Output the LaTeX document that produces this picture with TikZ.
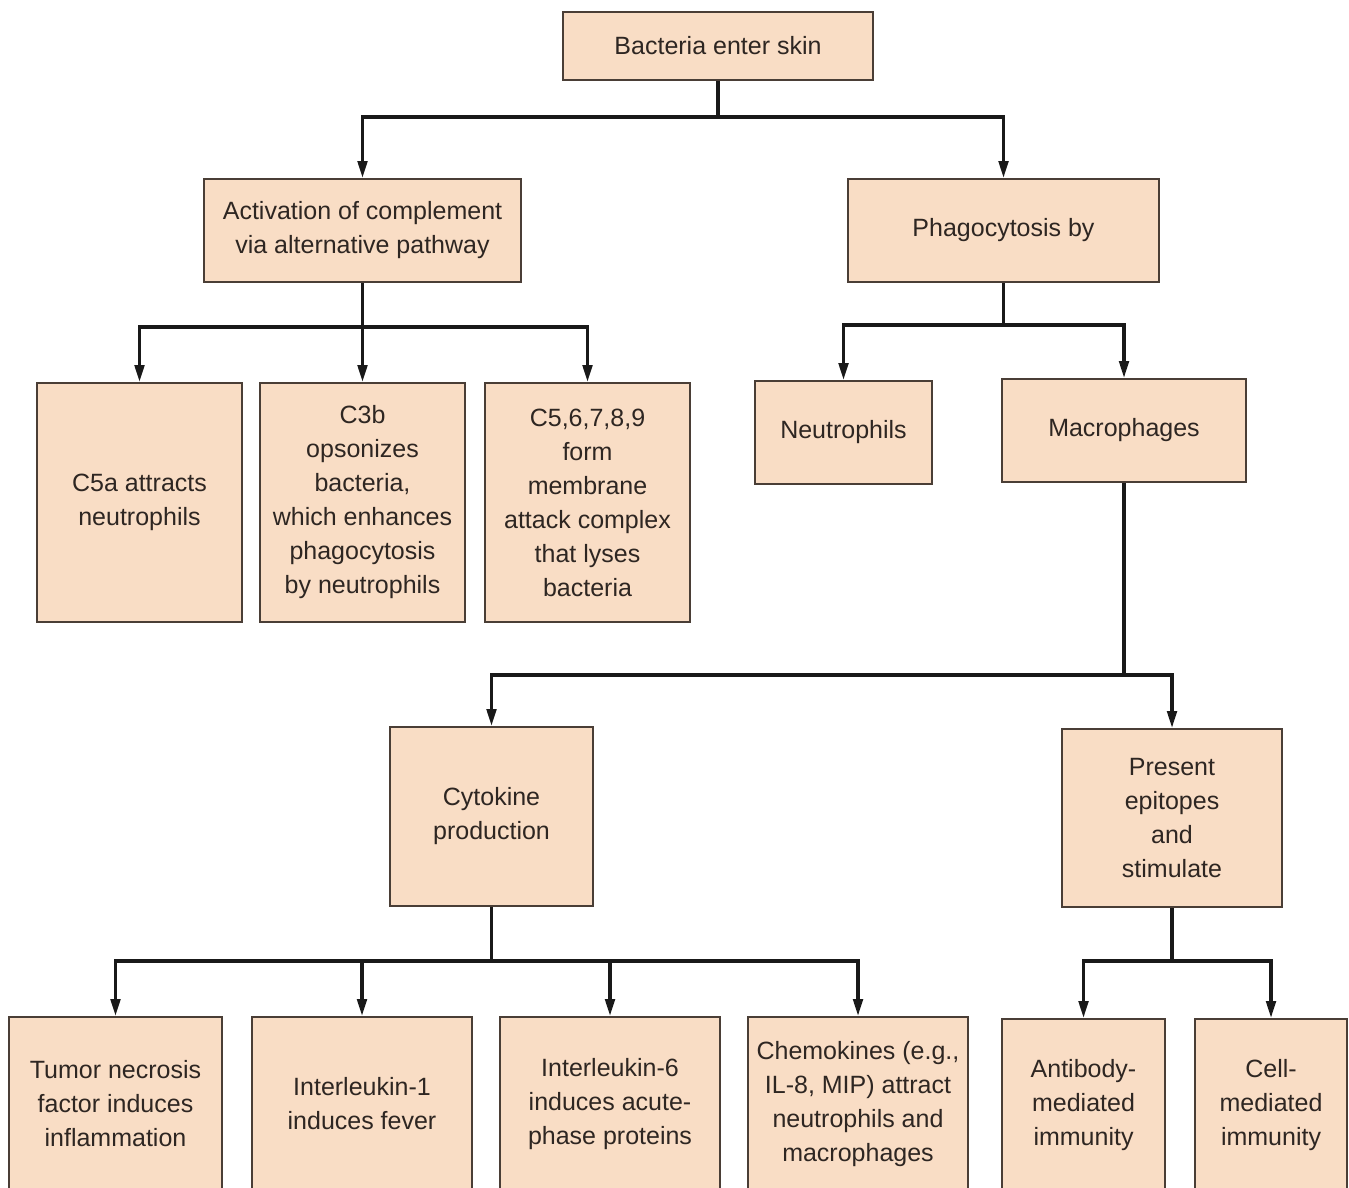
\documentclass[tikz,border=0pt]{standalone}
\usepackage{fontspec}
\setmainfont{Liberation Sans}
\usetikzlibrary{arrows.meta}
\definecolor{boxfill}{HTML}{F9DDC5}
\definecolor{boxline}{HTML}{4A3E36}
\definecolor{txt}{HTML}{2E2622}
\begin{document}
\begin{tikzpicture}[x=0.5pt,y=-0.5pt,
 box/.style={draw=boxline, line width=1pt, fill=boxfill, inner sep=0pt, align=center, text=txt, font=\fontsize{12.5}{17}\selectfont},
 link/.style={line width=1.6pt, draw=black!90},
 arr/.style={link, -{Triangle[length=8.5pt,width=4.8pt]}}]
\useasboundingbox (0,0) rectangle (1349,1188);
\clip (0,0) rectangle (1349,1188);
\fill[white] (0,0) rectangle (1349,1188);
% boxes
\node[box, minimum width=155pt, minimum height=34pt] (bact) at (718,46) {Bacteria enter skin};
\node[box, minimum width=158.5pt, minimum height=51.5pt] (act) at (362.5,230.5) {Activation of complement\\via alternative pathway};
\node[box, minimum width=155.5pt, minimum height=51.5pt] (phag) at (1003.5,230.5) {Phagocytosis by};
\node[box, minimum width=102.5pt, minimum height=119.5pt] (c5a) at (139.5,502.5) {C5a attracts\\neutrophils};
\node[box, minimum width=102.5pt, minimum height=119.5pt] (c3b) at (362.5,502.5) {C3b\\opsonizes\\bacteria,\\which enhances\\phagocytosis\\by neutrophils};
\node[box, minimum width=102.5pt, minimum height=119.5pt] (c59) at (587.5,502.5) {C5,6,7,8,9\\form\\membrane\\attack complex\\that lyses\\bacteria};
\node[box, minimum width=88.5pt, minimum height=51.5pt] (neut) at (843.5,432.5) {Neutrophils};
\node[box, minimum width=122pt, minimum height=51.5pt] (mac) at (1124,430.5) {Macrophages};
\node[box, minimum width=101.5pt, minimum height=89.5pt] (cyto) at (491.5,816.5) {Cytokine\\production};
\node[box, minimum width=110pt, minimum height=89pt] (pres) at (1172,818) {Present\\epitopes\\and\\stimulate};
\node[box, minimum width=106.5pt, minimum height=87pt] (tnf) at (115.5,1104) {Tumor necrosis\\factor induces\\inflammation};
\node[box, minimum width=110pt, minimum height=87pt] (il1) at (362,1104) {Interleukin-1\\induces fever};
\node[box, minimum width=110pt, minimum height=87pt] (il6) at (610,1104) {Interleukin-6\\induces acute-\\phase proteins};
\node[box, minimum width=110pt, minimum height=87pt] (chem) at (858,1104) {Chemokines (e.g.,\\IL-8, MIP) attract\\neutrophils and\\macrophages};
\node[box, minimum width=81.5pt, minimum height=86pt] (ab) at (1083.5,1105) {Antibody-\\mediated\\immunity};
\node[box, minimum width=76pt, minimum height=86pt] (cell) at (1271,1105) {Cell-\\mediated\\immunity};
% junctions
\coordinate (j1) at (718,117);
\coordinate (j2) at (362.5,327);
\coordinate (j3) at (1003.5,325);
\coordinate (j4) at (1124,675);
\coordinate (j5) at (491.5,961);
\coordinate (j6) at (1172,961);
% connectors
\draw[link] (bact.south) -- (j1);
\draw[arr] (j1) -| (act.north);
\draw[arr] (j1) -| (phag.north);
\draw[link] (act.south) -- (j2);
\draw[arr] (j2) -| (c5a.north);
\draw[arr] (j2) -- (c3b.north);
\draw[arr] (j2) -| (c59.north);
\draw[link] (phag.south) -- (j3);
\draw[arr] (j3) -| (neut.north);
\draw[arr] (j3) -| (mac.north);
\draw[link] (mac.south) -- (j4);
\draw[arr] (j4) -| (cyto.north);
\draw[arr] (j4) -| (pres.north);
\draw[link] (cyto.south) -- (j5);
\draw[arr] (j5) -| (tnf.north);
\draw[arr] (j5) -| (il1.north);
\draw[arr] (j5) -| (il6.north);
\draw[arr] (j5) -| (chem.north);
\draw[link] (pres.south) -- (j6);
\draw[arr] (j6) -| (ab.north);
\draw[arr] (j6) -| (cell.north);
\end{tikzpicture}
\end{document}
